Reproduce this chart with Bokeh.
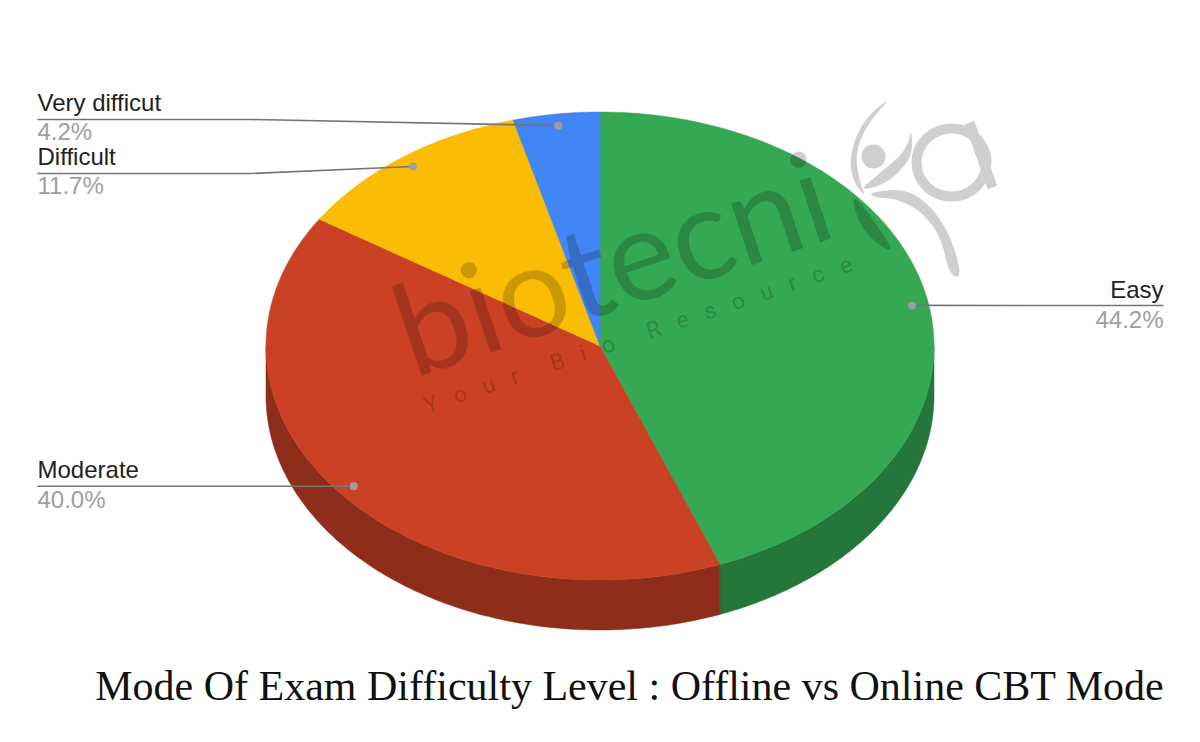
import math
import numpy as np
from bokeh.plotting import figure
from bokeh.embed import file_html
from bokeh.resources import INLINE
from bokeh.core.properties import value

categories = ["Easy", "Moderate", "Difficult", "Very difficut"]
shares = [44.2, 40.0, 11.7, 4.2]
percent_labels = ["44.2%", "40.0%", "11.7%", "4.2%"]
top_colors = ["#34a853", "#cb4125", "#fbbc04", "#4285f4"]
side_colors = ["#25763b", "#8e2d1a", "#b08403", "#2e5dab"]
title = "Mode Of Exam Difficulty Level : Offline vs Online CBT Mode"

CX, CY, RX, RY, DEPTH = 599.5, 345.5, 334, 234, 50
W, H = 1184, 726
p = figure(width=W, height=H, x_range=(0, W), y_range=(H, 0),
           output_backend="svg", toolbar_location=None, min_border=0,
           outline_line_color=None, background_fill_color="white",
           border_fill_color="white")
p.xaxis.visible = False
p.yaxis.visible = False
p.grid.visible = False


def ex(t):
    return CX + RX * np.sin(t)


def ey(t):
    return CY - RY * np.cos(t)


def smooth(xs, ys, n=3):
    pts = np.column_stack([xs, ys]).astype(float)
    for _ in range(n):
        nxt = np.roll(pts, -1, axis=0)
        q = 0.75 * pts + 0.25 * nxt
        r = 0.25 * pts + 0.75 * nxt
        pts = np.empty((2 * len(q), 2))
        pts[0::2] = q
        pts[1::2] = r
    return pts[:, 0], pts[:, 1]


total = sum(shares)
fr = np.cumsum([0] + shares) / total * 2 * math.pi
# extruded side
for i in range(len(shares)):
    a, b = max(fr[i], math.pi / 2), min(fr[i + 1], 3 * math.pi / 2)
    if b <= a:
        continue
    t = np.linspace(a, b, 160)
    xs = np.r_[ex(t), ex(t[::-1])]
    ys = np.r_[ey(t), ey(t[::-1]) + DEPTH]
    p.patch(xs, ys, fill_color=side_colors[i], line_color=side_colors[i], line_width=0.5)
# top face
for i in range(len(shares)):
    t = np.linspace(fr[i], fr[i + 1], 240)
    p.patch(np.r_[CX, ex(t)], np.r_[CY, ey(t)], fill_color=top_colors[i],
            line_color=top_colors[i], line_width=0.5)

# leader lines and dots
mid = (fr[:-1] + fr[1:]) / 2
dx = CX + 0.95 * RX * np.sin(mid)
dy = CY - 0.95 * RY * np.cos(mid)
LINE = "#757575"
# label layout: (line y, outer x, elbow x, label side, name y, percent y)
layout = {
    "Easy": (305, 1163, None, "right", 289, 319),
    "Moderate": (dy[1], 37, None, "left", 469, 499),
    "Difficult": (173, 37, 250, "left", 156, 185),
    "Very difficut": (119, 37, 250, "left", 102, 131),
}
for i, c in enumerate(categories):
    ly, ox, elbow, side, ty, py = layout[c]
    xs = [ox] + ([elbow] if elbow else []) + [dx[i]]
    ys = [ly] + ([ly] if elbow else []) + [dy[i]]
    p.line(xs, ys, line_color=LINE, line_width=1.6)
    p.text([ox], [ty], text=[c], text_color="#222222", text_font=value("Liberation Sans"),
           text_font_size="24px", text_align=side, text_baseline="middle")
    p.text([ox], [py], text=[percent_labels[i]], text_color="#9e9e9e",
           text_font=value("Liberation Sans"), text_font_size="24px", text_align=side,
           text_baseline="middle")
p.scatter(dx, dy, size=8, fill_color="#9e9e9e", line_color=None)

# watermark
WM = "#000000"
ALPHA = 0.19
SOLID = "#cfcfcf"
ROT = math.radians(18.5)
NB = "\u00a0"
tag = (NB * 6).join((NB * 3).join(w) for w in ["Your", "Bio", "Resource"])
p.text([397], [331], text=["biotecni"], angle=[ROT], text_font=value("Lato"),
       text_font_size="128px", text_color=WM, text_alpha=ALPHA, text_baseline="middle")
p.text([424], [406], text=[tag], angle=[ROT],
       text_font=value("Roboto"), text_font_size="23px", text_color=WM, text_alpha=ALPHA,
       text_baseline="middle")
blobs = [
    ([892, 862, 849, 852, 866, 858, 855, 868], [95, 120, 155, 180, 198, 178, 150, 122]),
    ([911, 912, 905, 886, 857, 880, 897, 907], [128, 150, 165, 183, 191, 172, 158, 145]),
    ([868, 905, 930, 950, 962, 949, 940, 920, 895, 874],
     [192, 188, 205, 235, 277, 275, 235, 210, 198, 197]),
]
for bx, by in blobs:
    sx, sy = smooth(bx, by, 2)
    p.patch(sx, sy, fill_color=SOLID, line_color=None)
sx, sy = smooth([851, 857, 872, 894, 880, 866], [193, 220, 240, 253, 230, 210], 2)
p.patch(sx, sy, fill_color=WM, fill_alpha=ALPHA, line_color=None)
p.circle([873], [156], radius=12, fill_color=SOLID, line_color=None)
p.ellipse([951], [162], width=70, height=68, fill_color=None, line_color=SOLID, line_width=10)
p.line([969, 992], [122, 187], line_color=SOLID, line_width=10)

p.text([1164], [685], text=[title], text_font=value("Liberation Serif"),
       text_font_size="42px", text_color="#111111", text_align="right",
       text_baseline="middle")

open("out.html", "w").write(file_html(p, INLINE))
